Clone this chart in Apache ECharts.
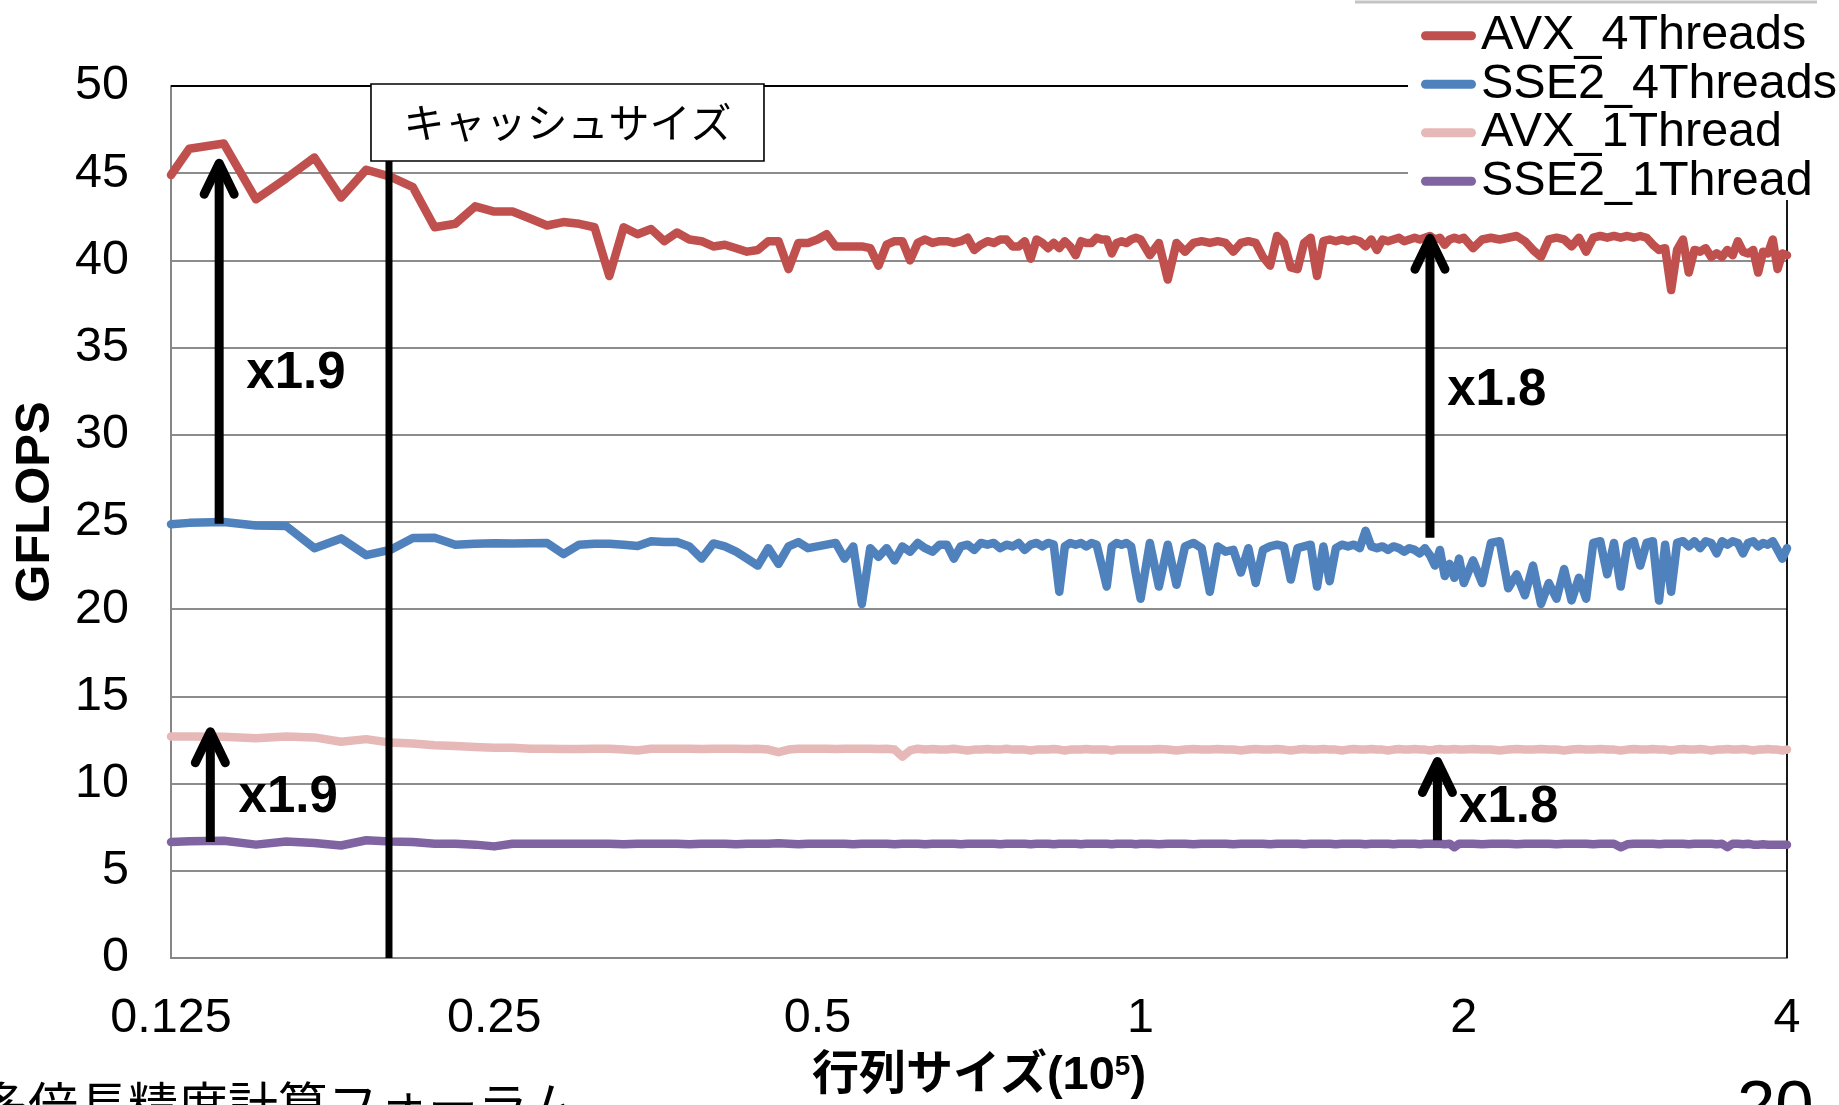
<!DOCTYPE html>
<html><head><meta charset="utf-8">
<script src="https://cdn.jsdelivr.net/npm/echarts@6/dist/echarts.min.js"></script>
<style>html,body{margin:0;padding:0;background:#fff}#main{width:1839px;height:1105px}</style>
</head><body><div id="main"></div>
<script>
// ---- data (x in units of 10^5) ----
const sizes = [
0.125,0.13,0.14,0.15,0.16,0.17,0.18,0.19,0.2,0.21,0.22,0.23,0.24,0.25,0.26,0.27,0.28,0.29,0.3,0.31,0.32,0.33,0.34,0.35,0.36,0.37,0.38,0.39,0.4,0.41,0.42,0.43,0.44,0.45,0.46,0.47,0.48,0.49,0.5,0.51,0.52,0.53,0.54,0.55,0.56,0.57,0.58,0.59,0.6,0.61,0.62,0.63,0.64,0.65,0.66,0.67,0.68,0.69,0.7,0.71,0.72,0.73,0.74,0.75,0.76,0.77,0.78,0.79,0.8,0.81,0.82,0.83,0.84,0.85,0.86,0.87,0.88,0.89,0.9,0.91,0.92,0.93,0.94,0.95,0.96,0.97,0.98,0.99,1,
1.02,1.04,1.06,1.08,1.1,1.12,1.14,1.16,1.18,1.2,1.22,1.24,1.26,1.28,1.3,1.32,1.34,1.36,1.38,1.4,1.42,1.44,1.46,1.48,1.5,1.52,1.54,1.56,1.58,1.6,1.62,1.64,1.66,1.68,1.7,1.72,1.74,1.76,1.78,1.8,1.82,1.84,1.86,1.88,1.9,1.92,1.94,1.96,1.98,2,
2.04,2.08,2.12,2.16,2.2,2.24,2.28,2.32,2.36,2.4,2.44,2.48,2.52,2.56,2.6,2.64,2.68,2.72,2.76,2.8,2.84,2.88,2.92,2.96,3,3.04,3.08,3.12,3.16,3.2,3.24,3.28,3.32,3.36,3.4,3.44,3.48,3.52,3.56,3.6,3.64,3.68,3.72,3.76,3.8,3.84,3.88,3.92,3.96,4
];
const avx4Threads = [
44.9,46.4,46.7,43.5,44.7,45.9,43.6,45.2,44.8,44.2,
41.9,42.1,43.1,42.8,42.8,42.4,42.0,42.2,42.1,41.9,
39.1,41.9,41.5,41.8,41.1,41.6,41.2,41.1,40.8,40.9,
40.7,40.5,40.6,41.1,41.1,39.5,41.0,41.0,41.2,41.5,
40.8,40.8,40.8,40.8,40.7,39.7,40.9,41.1,41.1,40.0,
41.0,41.2,41.0,41.1,41.1,41.0,41.1,41.3,40.6,40.9,
41.1,41.0,41.2,41.2,40.8,40.8,41.1,40.1,41.2,41.0,
40.7,41.0,40.7,41.1,40.8,40.3,41.1,41.0,41.0,41.3,
41.2,41.2,40.4,41.0,41.1,41.0,41.2,41.3,41.2,
40.3,41.0,38.9,41.0,40.5,41.0,41.1,41.0,41.1,41.0,
40.5,41.0,41.1,41.0,40.2,39.7,41.4,41.0,39.6,39.5,
41.0,41.3,39.1,41.1,41.2,41.1,41.2,41.1,41.2,41.1,
40.8,41.2,40.6,41.2,41.1,41.2,41.3,41.1,41.2,41.3,
41.2,41.3,41.4,41.2,41.3,40.9,41.2,41.3,41.2,41.3,
40.7,41.2,41.3,41.2,41.3,41.4,41.1,40.6,40.2,41.2,
41.3,41.2,40.8,41.3,40.5,41.3,41.4,41.3,41.4,41.3,
41.4,41.3,41.4,41.3,40.9,40.6,40.7,38.3,40.6,41.2,
39.3,40.6,40.5,40.7,40.2,40.4,40.2,40.6,40.3,41.1,
40.5,40.4,40.6,39.3,40.5,40.4,41.2,39.5,40.4,40.3
];
const sse2_4Threads = [
24.87,24.95,25.0,24.8,24.77,23.5,24.06,23.1,23.4,24.08,
24.1,23.7,23.75,23.78,23.77,23.78,23.8,23.16,23.7,23.75,
23.75,23.7,23.62,23.9,23.85,23.85,23.6,22.9,23.77,23.6,
23.3,22.9,22.5,23.5,22.6,23.6,23.85,23.5,23.6,23.7,
23.8,22.9,23.6,20.3,23.5,23.0,23.5,22.8,23.6,23.3,
23.8,23.5,23.3,23.7,23.7,22.9,23.6,23.7,23.4,23.8,
23.7,23.8,23.5,23.7,23.6,23.8,23.4,23.7,23.8,23.6,
23.8,23.7,21.0,23.6,23.8,23.7,23.8,23.6,23.8,23.7,
22.5,21.3,23.6,23.8,23.7,23.8,23.6,22.0,20.6,
23.8,21.3,23.7,21.4,23.6,23.8,23.5,21.0,23.6,23.3,
23.4,22.1,23.5,21.5,23.4,23.6,23.7,23.6,21.7,23.5,
23.6,23.7,21.3,23.6,21.6,23.5,23.7,23.6,23.7,23.5,
24.5,23.6,23.5,23.6,23.4,23.6,23.5,23.3,23.5,23.4,
23.2,23.5,23.1,22.5,23.4,21.9,22.6,21.8,22.9,21.5,
22.8,21.5,23.8,23.9,21.2,22.0,20.8,22.5,20.3,21.5,
20.6,22.3,20.5,21.8,20.6,23.8,23.9,22.0,23.8,21.3,
23.7,23.9,22.5,23.8,23.9,20.5,23.7,21.0,23.8,23.9,
23.6,23.9,23.5,23.9,23.8,23.2,23.9,23.7,23.9,23.8,
23.2,23.8,23.9,23.6,23.8,23.7,23.9,23.4,22.9,23.5
];
const avx1Thread = [
12.7,12.7,12.68,12.6,12.7,12.65,12.4,12.55,12.35,12.3,
12.2,12.15,12.1,12.05,12.05,12.0,12.0,11.98,11.98,12.0,
12.0,11.95,11.9,12.0,12.0,12.0,12.0,11.98,12.0,12.0,
12.0,11.98,12.0,11.95,11.8,11.95,12.0,12.0,12.0,12.0,
11.98,12.0,12.0,12.0,12.0,11.98,12.0,11.95,11.55,11.9,
12.0,11.95,11.98,11.95,11.95,12.0,11.95,11.9,11.95,11.95,
11.98,11.95,11.95,12.0,11.95,11.95,11.95,11.9,11.95,11.95,
11.95,11.98,11.95,11.9,11.95,11.95,11.95,11.98,11.95,11.95,
11.95,11.95,11.9,11.95,11.95,11.95,11.95,11.95,11.95,
11.95,11.98,11.95,11.9,11.95,11.98,11.95,11.95,11.98,11.95,
11.95,11.9,11.95,11.98,11.95,11.95,11.98,11.95,11.9,11.95,
11.98,11.95,11.95,11.98,11.95,11.95,11.9,11.95,11.98,11.95,
11.95,11.98,11.95,11.95,11.9,11.95,11.98,11.95,11.95,11.98,
11.95,11.95,11.9,11.95,11.98,11.95,11.95,11.98,11.95,11.95,
11.98,11.95,11.95,11.9,11.95,11.98,11.95,11.95,11.98,11.95,
11.95,11.9,11.95,11.98,11.95,11.95,11.98,11.95,11.95,11.9,
11.95,11.98,11.95,11.95,11.98,11.95,11.95,11.9,11.95,11.98,
11.95,11.95,11.98,11.95,11.9,11.95,11.95,11.98,11.95,11.95,
11.98,11.95,11.9,11.95,11.95,11.98,11.95,11.95,11.9,11.95
];
const sse2_1Thread = [
6.65,6.7,6.72,6.5,6.68,6.6,6.45,6.75,6.68,6.65,
6.55,6.55,6.5,6.4,6.55,6.55,6.55,6.55,6.55,6.55,
6.55,6.52,6.55,6.55,6.55,6.55,6.52,6.55,6.55,6.55,
6.52,6.55,6.55,6.55,6.58,6.55,6.52,6.55,6.55,6.55,
6.55,6.55,6.52,6.55,6.55,6.55,6.55,6.52,6.55,6.55,
6.55,6.52,6.55,6.55,6.55,6.55,6.52,6.55,6.55,6.55,
6.55,6.55,6.52,6.55,6.55,6.55,6.55,6.52,6.55,6.55,
6.55,6.52,6.55,6.55,6.55,6.55,6.52,6.55,6.55,6.55,
6.55,6.55,6.52,6.55,6.55,6.55,6.55,6.52,6.55,
6.55,6.52,6.55,6.55,6.55,6.52,6.55,6.55,6.55,6.55,
6.52,6.55,6.55,6.55,6.55,6.52,6.55,6.55,6.55,6.55,
6.52,6.55,6.55,6.55,6.55,6.52,6.55,6.55,6.55,6.55,
6.52,6.55,6.55,6.55,6.55,6.52,6.55,6.55,6.55,6.55,
6.52,6.55,6.55,6.55,6.55,6.52,6.55,6.35,6.55,6.55,
6.55,6.52,6.55,6.55,6.55,6.52,6.55,6.55,6.55,6.55,
6.52,6.55,6.55,6.55,6.55,6.52,6.55,6.55,6.55,6.35,
6.52,6.55,6.55,6.55,6.55,6.52,6.55,6.55,6.55,6.55,
6.52,6.55,6.55,6.55,6.55,6.52,6.55,6.35,6.55,6.55,
6.52,6.55,6.5,6.5,6.52,6.5,6.5,6.5,6.5,6.5
];
const seriesNames = ['AVX_4Threads','SSE2_4Threads','AVX_1Thread','SSE2_1Thread'];
const seriesColors = ['#C0504D','#4F81BD','#E6B9B8','#8064A2'];
const xTickLabels = ['0.125','0.25','0.5','1','2','4'];
const yMin = 0, yMax = 50, yInterval = 5;
const yAxisTitle = 'GFLOPS';
const cacheSize = 0.1995;           // cache-size marker (x value)
const cacheLabel = 'キャッシュサイズ';
const arrows = [                    // speed-up arrows: x, from value, to value
  {x:0.1386, from:24.9, to:45.8},
  {x:1.86,  from:24.1, to:41.5},
  {x:0.136, from:6.65, to:13.2},
  {x:1.89,  from:6.75, to:11.5}
];
const ratioLabels = [
  {text:'x1.9', x:0.1469, y:33.5},
  {text:'x1.8', x:1.93,  y:32.5},
  {text:'x1.9', x:0.1445, y:9.15},
  {text:'x1.8', x:1.98,  y:8.6}
];
const footerText = '多倍長精度計算フォーラム';
const pageNumber = '20';

const LATIN = '"Liberation Sans", Arial, "Noto Sans CJK JP", sans-serif';
const allSeries = [avx4Threads, sse2_4Threads, avx1Thread, sse2_1Thread];

const chart = echarts.init(document.getElementById('main'), null, {renderer:'canvas'});
const option = {
  animation: false,
  backgroundColor: '#fff',
  grid: {left:171, top:86, width:1616, height:872, containLabel:false},
  legend: {
    data: seriesNames, orient:'vertical', left:1421, top:11.5, padding:0,
    itemWidth:55, itemHeight:9, itemGap:0,
    icon: 'path://M4.5,0L50.5,0A4.5,4.5,0,0,1,50.5,9L4.5,9A4.5,4.5,0,0,1,4.5,0Z',
    textStyle: {fontSize:48.5, color:'#000', fontFamily:LATIN, lineHeight:48},
    selectedMode:false, z:5
  },
  xAxis: {
    type:'log', logBase:2, min:0.125, max:4,
    name: '{a|行列サイズ(10}{s|5}{a|)}', nameLocation:'middle', nameGap:95,
    nameTextStyle: {rich:{
      a:{fontSize:47, fontWeight:'bold', fontFamily:LATIN, color:'#000', lineHeight:47},
      s:{fontSize:28, fontWeight:'bold', fontFamily:LATIN, color:'#000', verticalAlign:'top', lineHeight:30}
    }},
    axisLine:{show:true, lineStyle:{color:'#868686', width:2}},
    axisTick:{show:false}, splitLine:{show:false}, minorTick:{show:false},
    axisLabel:{fontSize:48.5, color:'#000', fontFamily:LATIN, margin:36,
      formatter: v => { const i = Math.round(Math.log2(v/0.125)); return xTickLabels[i] || ''; }}
  },
  yAxis: {
    type:'value', min:yMin, max:yMax, interval:yInterval,
    axisLine:{show:true, lineStyle:{color:'#868686', width:2}},
    axisTick:{show:false},
    splitLine:{show:true, lineStyle:{color:'#8c8c8c', width:2}},
    axisLabel:{fontSize:48.5, color:'#000', fontFamily:LATIN, margin:42}
  },
  series: seriesNames.map((n, k) => ({
    name:n, type:'line', showSymbol:false, symbol:'none', z:2,
    color: seriesColors[k], itemStyle:{color:seriesColors[k]},
    lineStyle:{width:8.5, color:seriesColors[k], cap:'round', join:'round'},
    data: sizes.map((s, i) => [s, allSeries[k][i]]).filter(d => d[1] != null)
  }))
};
chart.setOption(option);

const P = (x, y) => chart.convertToPixel({gridIndex:0}, [x, y]);
const g = [];
// plot frame (top + right edges)
const tl = P(0.125, yMax), tr = P(4, yMax), br = P(4, yMin);
g.push({type:'polyline', z:1, shape:{points:[tl, tr, br]}, style:{stroke:'#000', lineWidth:1.8, fill:null}});
// legend white panel
g.push({type:'rect', z:3, shape:{x:1408, y:8, width:431, height:192}, style:{fill:'#fff'}});
// slide decoration line at top
g.push({type:'line', z:3, shape:{x1:1355, y1:2, x2:1817, y2:2}, style:{stroke:'#c4c4c4', lineWidth:3}});
// y axis title
g.push({type:'text', z:10, x:35, y:502, rotation:Math.PI/2, style:{text:yAxisTitle, x:0, y:0, align:'center', verticalAlign:'middle',
  font:'bold 49px "Liberation Sans", Arial, sans-serif', fill:'#000'}});
// cache size marker
const c0 = P(cacheSize, yMin);
g.push({type:'line', z:10, shape:{x1:c0[0], y1:c0[1], x2:c0[0], y2:160}, style:{stroke:'#000', lineWidth:7}});
g.push({type:'rect', z:11, shape:{x:c0[0]-18, y:84, width:393, height:77}, style:{fill:'#fff', stroke:'#000', lineWidth:1.6}});
g.push({type:'text', z:12, style:{text:cacheLabel, x:c0[0]-18+196.5, y:122.5, align:'center', verticalAlign:'middle',
  font:'41px "Noto Sans CJK JP", sans-serif', fill:'#000'}});
// arrows
arrows.forEach(a => {
  const b = P(a.x, a.from), t = P(a.x, a.to);
  const vy = t[1] + 4;
  g.push({type:'line', z:10, shape:{x1:b[0], y1:b[1], x2:b[0], y2:vy+6}, style:{stroke:'#000', lineWidth:9}});
  g.push({type:'polyline', z:10, shape:{points:[[t[0]-15, vy+31],[t[0], vy],[t[0]+15, vy+31]]},
    style:{stroke:'#000', lineWidth:9, lineCap:'round', lineJoin:'round', fill:null}});
});
ratioLabels.forEach(r => {
  const p = P(r.x, r.y);
  g.push({type:'text', z:10, style:{text:r.text, x:p[0], y:p[1], align:'left', verticalAlign:'middle',
    font:'bold 51px "Liberation Sans", Arial, sans-serif', fill:'#000'}});
});
// slide footer texts
g.push({type:'text', z:10, style:{text:footerText, x:-22, y:1080, verticalAlign:'top',
  font:'50px "Noto Sans CJK JP", sans-serif', fill:'#000'}});
g.push({type:'text', z:10, style:{text:pageNumber, x:1737, y:1074, verticalAlign:'top',
  font:'69px "Liberation Sans", Arial, sans-serif', fill:'#000'}});
chart.setOption({graphic: g});
</script></body></html>
